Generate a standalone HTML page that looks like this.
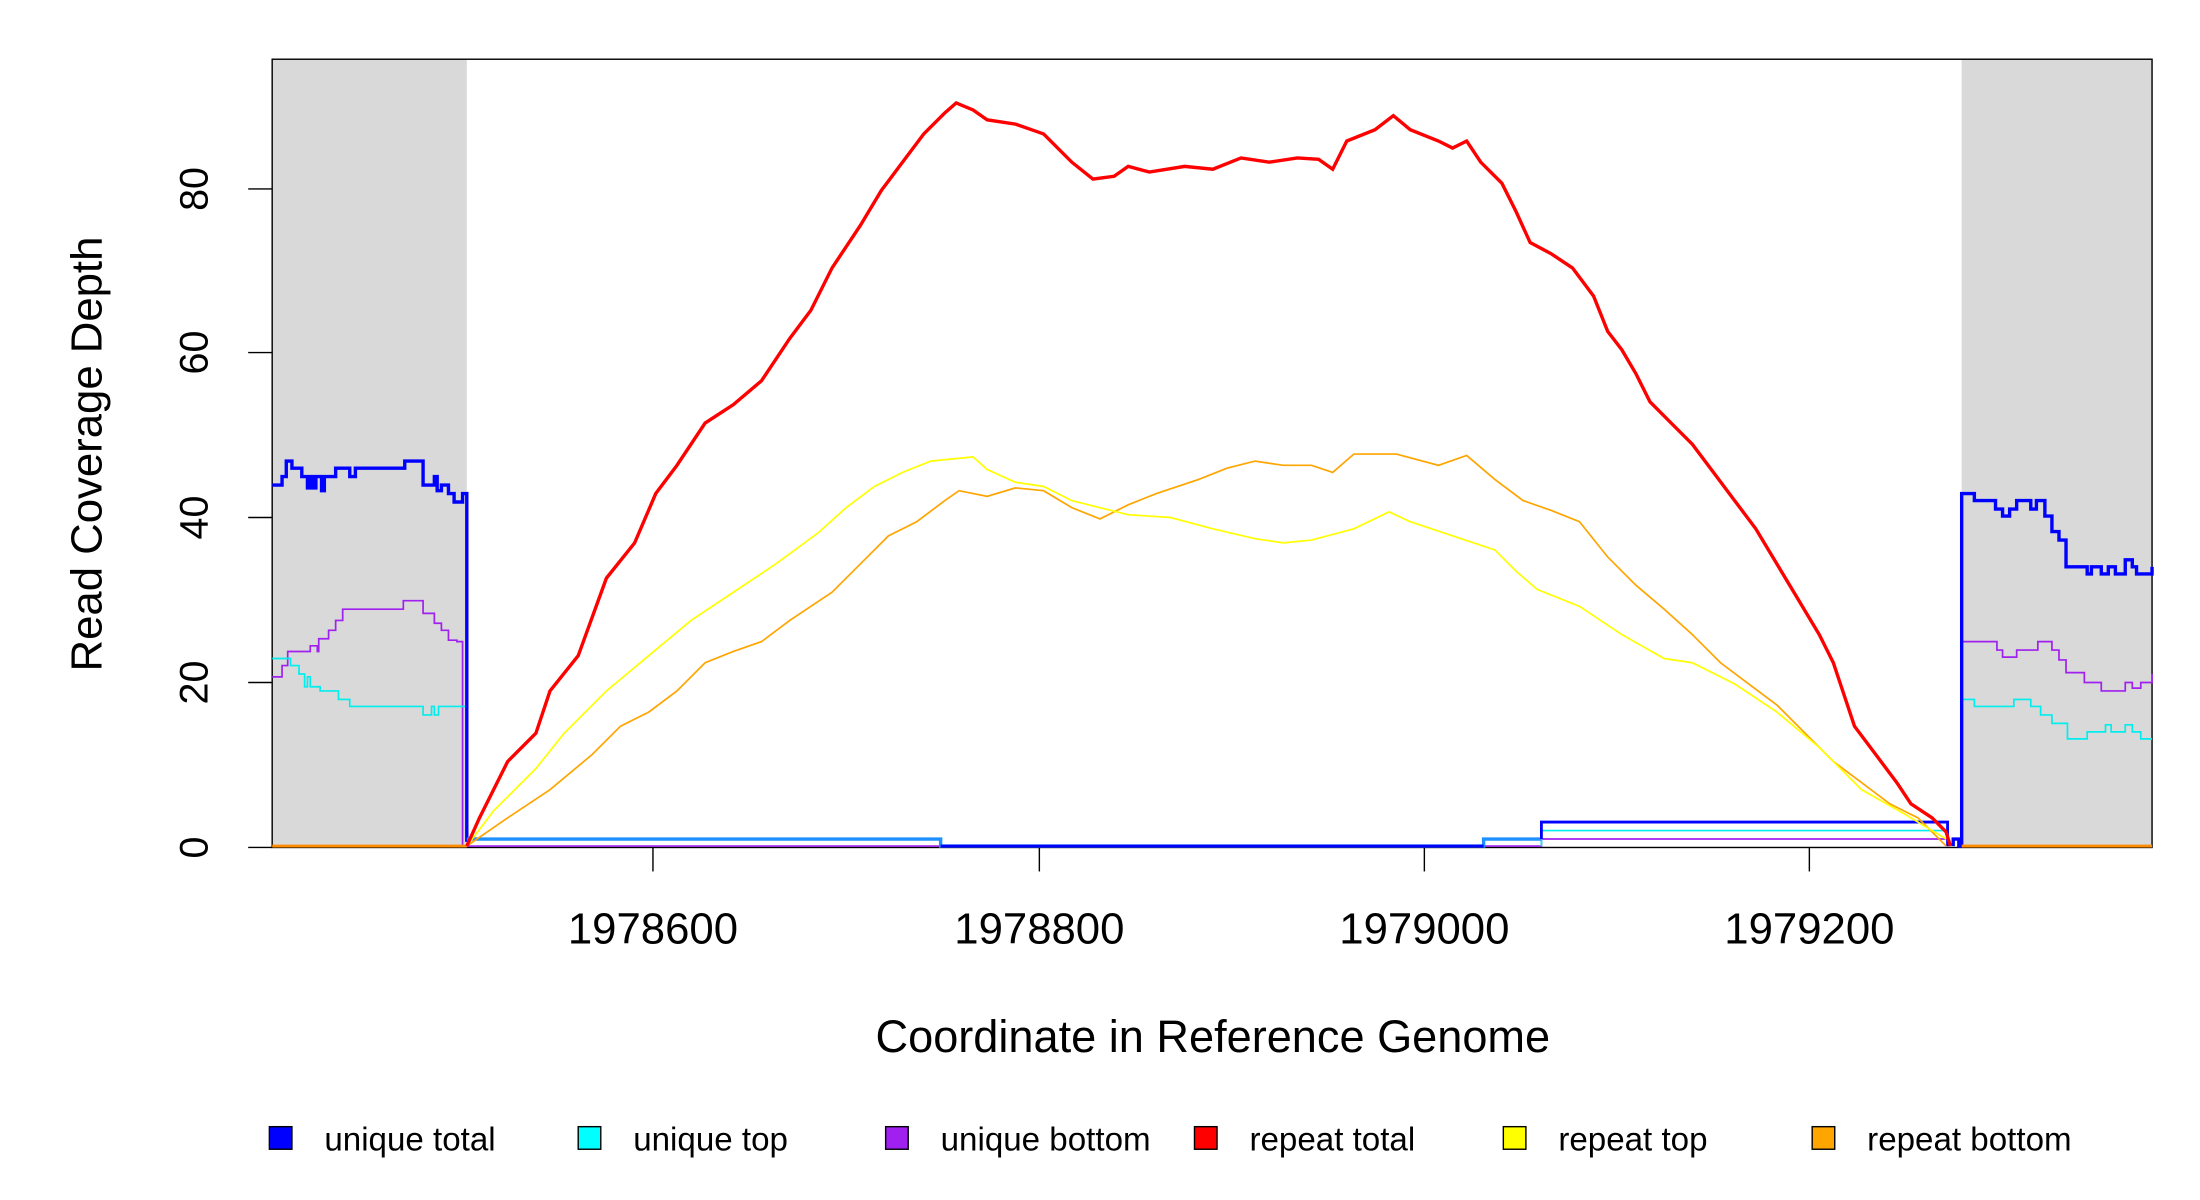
<!DOCTYPE html>
<html><head><meta charset="utf-8"><style>html,body{margin:0;padding:0;background:#fff}svg{display:block}</style></head>
<body>
<svg width="2200" height="1200" viewBox="0 0 1560 851" preserveAspectRatio="none" xmlns="http://www.w3.org/2000/svg" font-family="Liberation Sans, sans-serif">
<rect x="193" y="42" width="138" height="559" fill="#d9d9d9"/>
<rect x="1391" y="42" width="135" height="559" fill="#d9d9d9"/>
<rect x="193" y="42" width="1333" height="559" fill="none" stroke="#000" stroke-width="1"/>
<g stroke="#000" stroke-width="1">
<line x1="176" y1="601" x2="193" y2="601"/><line x1="176" y1="484" x2="193" y2="484"/><line x1="176" y1="367" x2="193" y2="367"/><line x1="176" y1="250" x2="193" y2="250"/><line x1="176" y1="134" x2="193" y2="134"/>
<line x1="463" y1="601" x2="463" y2="618"/><line x1="737" y1="601" x2="737" y2="618"/><line x1="1010" y1="601" x2="1010" y2="618"/><line x1="1283" y1="601" x2="1283" y2="618"/>
</g>
<g font-size="28" text-anchor="middle">
<text transform="translate(147,601) rotate(-90)">0</text>
<text transform="translate(147,484) rotate(-90)">20</text>
<text transform="translate(147,367) rotate(-90)">40</text>
<text transform="translate(147,250) rotate(-90)">60</text>
<text transform="translate(147,134) rotate(-90)">80</text>
</g>
<g font-size="31" text-anchor="middle">
<text x="463" y="669">1978600</text><text x="737" y="669">1978800</text><text x="1010" y="669">1979000</text><text x="1283" y="669">1979200</text>
<text x="860" y="746" font-size="32">Coordinate in Reference Genome</text>
<text transform="translate(72,322) rotate(-90)">Read Coverage Depth</text>
</g>
<g fill="none" stroke-linejoin="miter">
<polyline stroke="#a020f0" stroke-width="1.2" points="193,480 200,480 200,472 204,472 204,462 220,462 220,458 225,458 225,462 226,462 226,453 233,453 233,447 238,447 238,440 243,440 243,432 255,432 255,432 286,432 286,426 300,426 300,435 308,435 308,442 313,442 313,447 318,447 318,454 324,454 324,455 328,455 328,600"/>
<polyline stroke="#00eeee" stroke-width="1.2" points="193,467 206,467 206,472 212,472 212,478 216,478 216,487 218,487 218,480 220,480 220,487 227,487 227,490 240,490 240,496 248,496 248,501 300,501 300,507 306,507 306,501 308,501 308,507 311,507 311,501 330,501"/>
<polyline stroke="#0000ff" stroke-width="2.4" points="193,344 200,344 200,338 203,338 203,327 207,327 207,332 214,332 214,338 218,338 218,346 220,346 220,338 222,338 222,346 224,346 224,338 228,338 228,348 230,348 230,338 238,338 238,332 248,332 248,338 252,338 252,332 287,332 287,327 300,327 300,344 308,344 308,338 310,338 310,348 313,348 313,344 318,344 318,350 322,350 322,356 328,356 328,350 331,350 331,597"/>
<polyline stroke="#a020f0" stroke-width="1.2" points="1391,600 1391,455 1416,455 1416,461 1420,461 1420,466 1430,466 1430,461 1445,461 1445,455 1455,455 1455,461 1460,461 1460,468 1465,468 1465,477 1478,477 1478,484 1490,484 1490,490 1507,490 1507,484 1512,484 1512,488 1518,488 1518,484 1526,484 1526,478"/>
<polyline stroke="#00eeee" stroke-width="1.2" points="1391,600 1391,496 1400,496 1400,501 1428,501 1428,496 1440,496 1440,501 1447,501 1447,507 1455,507 1455,513 1466,513 1466,524 1480,524 1480,519 1493,519 1493,514 1497,514 1497,519 1507,519 1507,514 1512,514 1512,519 1518,519 1518,524 1526,524"/>
<polyline stroke="#0000ff" stroke-width="2.4" points="1385,600 1385,595 1389,595 1389,600 1391,600 1391,350 1400,350 1400,355 1415,355 1415,361 1420,361 1420,366 1425,366 1425,361 1430,361 1430,355 1440,355 1440,361 1444,361 1444,355 1450,355 1450,366 1455,366 1455,377 1460,377 1460,383 1465,383 1465,402 1480,402 1480,407 1483,407 1483,402 1490,402 1490,407 1495,407 1495,402 1500,402 1500,407 1507,407 1507,397 1512,397 1512,402 1515,402 1515,407 1526,407 1526,402"/>
<polyline stroke="#ff8c00" stroke-width="2" points="193,600 331,600"/>
<polyline stroke="#ff8c00" stroke-width="2" points="1391,600 1526,600"/>
<polyline stroke="#a020f0" stroke-width="1.2" points="331,600 1093,600 1093,595 1381,595 1381,600"/>
<polyline stroke="#00eeee" stroke-width="1.2" points="1093,600 1093,589 1381,589 1381,600"/>
<polyline stroke="#1e90ff" stroke-width="2.4" points="331,595 667,595 667,600 1052,600 1052,595 1093,595"/>
<polyline stroke="#0000ff" stroke-width="2" points="667,600 1052,600"/>
<polyline stroke="#0000ff" stroke-width="2" points="1093,595 1093,583 1381,583 1381,600"/>
<polyline stroke="#ffa500" stroke-width="1.2" points="331,600 360,580 390,560 420,535 440,515 460,505 480,490 500,470 520,462 540,455 560,440 590,420 610,400 630,380 650,370 670,355 680,348 700,352 720,346 740,348 760,360 780,368 800,358 820,350 850,340 870,332 890,327 910,330 930,330 945,335 960,322 990,322 1020,330 1040,323 1060,340 1080,355 1100,362 1120,370 1140,395 1160,415 1180,432 1200,450 1220,470 1240,485 1260,500 1280,520 1300,540 1320,555 1340,570 1360,580 1380,600"/>
<polyline stroke="#ffff00" stroke-width="1.2" points="331,600 350,575 380,545 400,520 430,490 460,465 490,440 520,420 550,400 580,378 600,360 620,345 640,335 660,327 690,324 700,333 720,342 740,345 760,355 780,360 800,365 830,367 860,375 890,382 910,385 930,383 960,375 985,363 1000,370 1030,380 1060,390 1075,405 1090,418 1120,430 1150,450 1180,467 1200,470 1230,485 1260,505 1290,530 1320,560 1350,577 1380,595"/>
<polyline stroke="#ff0000" stroke-width="2.4" points="331,600 340,580 360,540 380,520 390,490 410,465 430,410 450,385 465,350 480,330 500,300 520,287 540,270 560,240 575,220 590,190 610,160 625,135 640,115 655,95 670,80 678,73 690,78 700,85 720,88 740,95 760,115 775,127 790,125 800,118 815,122 840,118 860,120 880,112 900,115 920,112 935,113 945,120 955,100 975,92 988,82 1000,92 1020,100 1030,105 1040,100 1050,115 1065,130 1075,150 1085,172 1100,180 1115,190 1130,210 1140,235 1150,248 1160,265 1170,285 1185,300 1200,315 1215,335 1230,355 1245,375 1260,400 1275,425 1290,450 1300,470 1315,515 1330,535 1345,555 1355,570 1370,580 1380,590 1383,600"/>
</g>
<g stroke="#000" stroke-width="1">
<rect x="191" y="799" width="16" height="16" fill="#0000ff"/>
<rect x="410" y="799" width="16" height="16" fill="#00ffff"/>
<rect x="628" y="799" width="16" height="16" fill="#a020f0"/>
<rect x="847" y="799" width="16" height="16" fill="#ff0000"/>
<rect x="1066" y="799" width="16" height="16" fill="#ffff00"/>
<rect x="1285" y="799" width="16" height="16" fill="#ffa500"/>
</g>
<g font-size="23.5">
<text x="230" y="816">unique total</text>
<text x="449" y="816">unique top</text>
<text x="667" y="816">unique bottom</text>
<text x="886" y="816">repeat total</text>
<text x="1105" y="816">repeat top</text>
<text x="1324" y="816">repeat bottom</text>
</g>
</svg>
</body></html>
